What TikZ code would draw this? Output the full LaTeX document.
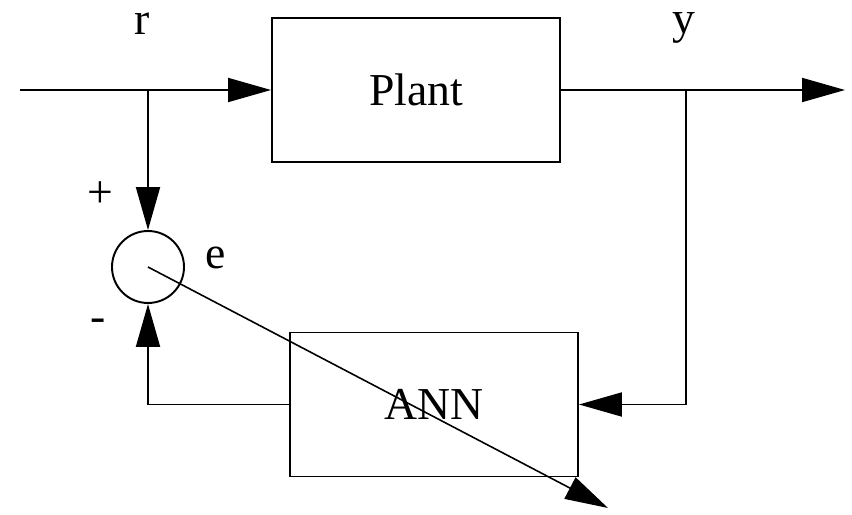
\documentclass[tikz,border=0pt]{standalone}
\usepackage{fontspec}
\setmainfont{Liberation Serif}
\usetikzlibrary{arrows.meta, positioning}

\begin{document}
\begin{tikzpicture}[
    line width=1.1pt,
    font=\fontsize{26}{30}\selectfont,
    bloco/.style={draw, rectangle, minimum width=5.76cm, minimum height=2.88cm, inner sep=0pt},
    somador/.style={draw, circle, minimum size=1.44cm, inner sep=0pt},
    rotulo/.style={inner sep=0pt},
    seta/.style={-{Triangle[length=0.86cm, width=0.48cm]}}
]
    \useasboundingbox (0,0) rectangle (17.04,10.28);

    \node[bloco] (plant) at (8.32,8.48) {Plant};
    \node[bloco] (ann) at (8.68,2.19) {ANN};
    \node[somador] (soma) at (2.96,4.94) {};

    \coordinate (entrada) at (0.4,8.48);
    \coordinate (saida) at (16.9,8.48);
    \coordinate (ramor) at (2.96,8.48);
    \coordinate (ramoy) at (13.72,8.48);
    \coordinate (ajuste) at (12.16,0.12);

    \node[rotulo] (lr) at (2.84,9.8) {r};
    \node[rotulo] (ly) at (13.68,9.72) {y};
    \node[rotulo] (lmais) at (2.0,6.38) {+};
    \node[rotulo] (lmenos) at (1.96,3.78) {-};
    \node[rotulo] (le) at (4.32,5.12) {e};

    \draw[seta] (entrada) -- (plant.west);
    \draw[seta] (plant.east) -- (saida);
    \draw[seta] (ramor) -- (soma.north);
    \draw[seta] (ramoy) |- (ann.east);
    \draw[seta] (ann.west) -| (soma.south);
    \draw[seta, line width=0.9pt] (soma.center) -- (ajuste);
\end{tikzpicture}
\end{document}
